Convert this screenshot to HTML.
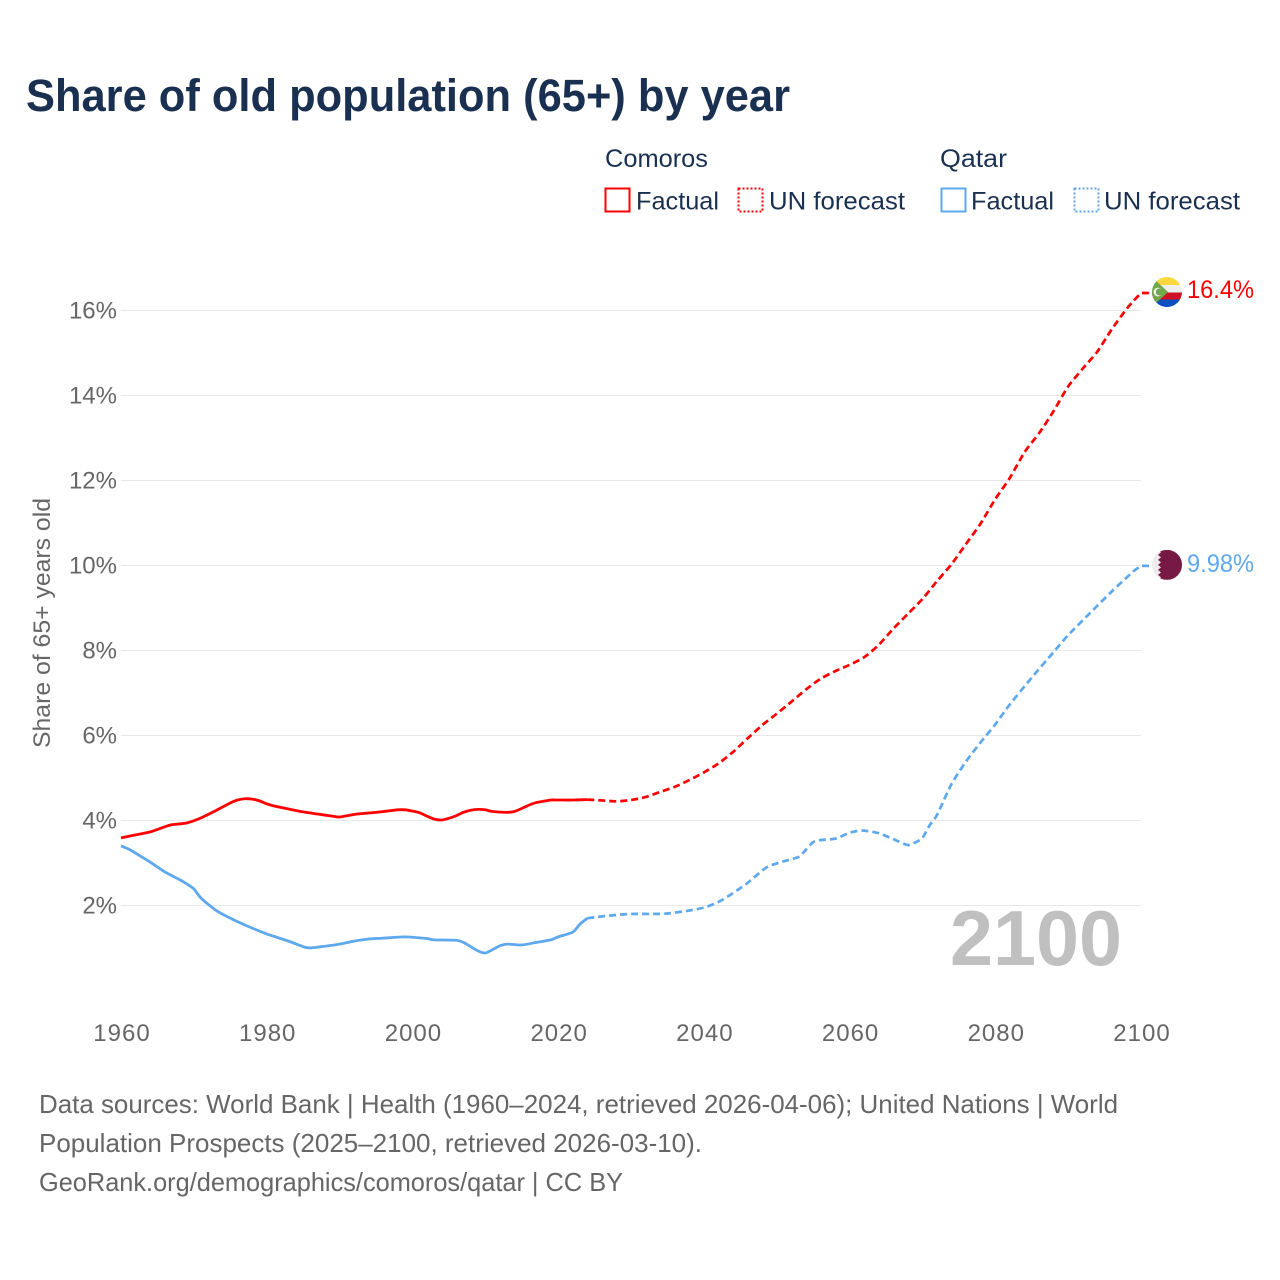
<!DOCTYPE html>
<html lang="en">
<head>
<meta charset="utf-8">
<title>Share of old population (65+) by year</title>
<style>
html,body{margin:0;padding:0;background:#fff;width:1280px;height:1280px;overflow:hidden}
svg{display:block}
text{font-family:"Liberation Sans",sans-serif}
</style>
</head>
<body>
<svg id="chart" xmlns="http://www.w3.org/2000/svg" width="1280" height="1280" viewBox="0 0 1280 1280">
  <defs>
    <clipPath id="flag-clip"><circle cx="0" cy="0" r="15"/></clipPath>
  </defs>
  <text x="26" y="111" font-size="45" font-weight="700" fill="#1a3050" textLength="764" lengthAdjust="spacingAndGlyphs">Share of old population (65+) by year</text>

  <g font-size="25" fill="#1a3050">
    <text x="605" y="167" textLength="103" lengthAdjust="spacingAndGlyphs">Comoros</text>
    <rect x="605.5" y="188.5" width="24" height="23" fill="none" stroke="#ff0000" stroke-width="2"/>
    <text x="636" y="209.5" textLength="83" lengthAdjust="spacingAndGlyphs">Factual</text>
    <rect x="738.5" y="188.5" width="24" height="23" fill="none" stroke="#ff0000" stroke-width="2" stroke-dasharray="2 2"/>
    <text x="769" y="209.5" textLength="136" lengthAdjust="spacingAndGlyphs">UN forecast</text>
    <text x="940" y="167" textLength="67" lengthAdjust="spacingAndGlyphs">Qatar</text>
    <rect x="941.5" y="188.5" width="24" height="23" fill="none" stroke="#5ea8ee" stroke-width="2"/>
    <text x="971" y="209.5" textLength="83" lengthAdjust="spacingAndGlyphs">Factual</text>
    <rect x="1074.5" y="188.5" width="24" height="23" fill="none" stroke="#5ea8ee" stroke-width="2" stroke-dasharray="2 2"/>
    <text x="1104" y="209.5" textLength="136" lengthAdjust="spacingAndGlyphs">UN forecast</text>
  </g>

  <text transform="translate(50,748) rotate(-90)" font-size="24" fill="#666666" textLength="250" lengthAdjust="spacingAndGlyphs">Share of 65+ years old</text>

  <g id="grid"></g>
  <g id="y-ticks"></g>
  <g id="x-ticks"></g>

  <text x="950" y="965" font-size="78" font-weight="700" fill="#c0c0c0" textLength="172" lengthAdjust="spacingAndGlyphs">2100</text>

  <g id="series"></g>

  <g id="flag-comoros">
    <g clip-path="url(#flag-clip)">
      <rect x="-15" y="-15" width="30" height="8" fill="#ffd83d"/>
      <rect x="-15" y="-7" width="30" height="7.5" fill="#eeeeee"/>
      <rect x="-15" y="0.5" width="30" height="7" fill="#ce1126"/>
      <rect x="-15" y="7.5" width="30" height="8" fill="#0b4fc0"/>
      <polygon points="-15,-15 -15,15 -15,15 1,0" fill="#72a84a"/>
      <circle cx="-9" cy="0" r="4.4" fill="#f4f4f4"/>
      <circle cx="-7.6" cy="0" r="3.6" fill="#72a84a"/>
    </g>
  </g>
  <g id="flag-qatar">
    <g clip-path="url(#flag-clip)">
      <rect x="-15" y="-15" width="30" height="30" fill="#ececec"/>
      <polygon points="15,-15 -9,-15 -6,-12.5 -9,-10 -6,-7.5 -9,-5 -6,-2.5 -9,0 -6,2.5 -9,5 -6,7.5 -9,10 -6,12.5 -9,15 15,15" fill="#761a45"/>
    </g>
  </g>
  <text id="label-comoros" x="1187" y="298" font-size="25" fill="#ff0000" textLength="67" lengthAdjust="spacingAndGlyphs"></text>
  <text id="label-qatar" x="1187" y="572" font-size="25" fill="#5ea8ee" textLength="67" lengthAdjust="spacingAndGlyphs"></text>

  <g font-size="26" fill="#666666">
    <text x="39" y="1113" textLength="1079" lengthAdjust="spacingAndGlyphs">Data sources: World Bank | Health (1960–2024, retrieved 2026-04-06); United Nations | World</text>
    <text x="39" y="1152" textLength="663" lengthAdjust="spacingAndGlyphs">Population Prospects (2025–2100, retrieved 2026-03-10).</text>
    <text x="39" y="1191" textLength="584" lengthAdjust="spacingAndGlyphs">GeoRank.org/demographics/comoros/qatar | CC BY</text>
  </g>
</svg>
<script>
const yTickValues = [2, 4, 6, 8, 10, 12, 14, 16];
const xTickValues = [1960, 1980, 2000, 2020, 2040, 2060, 2080, 2100];

const comorosFactualYears = [1960,1962,1964,1966,1967,1969,1971,1973,1975,1976,1977,1978,1979,1980,1981,1983,1985,1987,1989,1990,1992,1993,1995,1997,1998,1999,2000,2001,2002,2003,2004,2005,2006,2007,2008,2009,2010,2011,2013,2014,2015,2016,2017,2018,2019,2020,2022,2024];
const comorosFactualValues = [3.58,3.65,3.72,3.84,3.89,3.93,4.05,4.22,4.40,4.47,4.50,4.49,4.45,4.38,4.33,4.26,4.19,4.14,4.09,4.07,4.13,4.15,4.18,4.22,4.24,4.24,4.21,4.17,4.09,4.02,4.00,4.04,4.10,4.18,4.23,4.25,4.24,4.20,4.18,4.20,4.27,4.35,4.41,4.44,4.47,4.47,4.47,4.48];
const comorosForecastYears = [2024,2026,2028,2030,2032,2034,2036,2038,2040,2042,2044,2046,2048,2050,2052,2054,2056,2058,2060,2062,2064,2066,2068,2070,2072,2074,2076,2078,2080,2082,2084,2086,2088,2090,2092,2094,2096,2098,2099,2100];
const comorosForecastValues = [4.48,4.46,4.44,4.47,4.54,4.66,4.78,4.94,5.12,5.33,5.60,5.92,6.23,6.50,6.78,7.07,7.32,7.50,7.65,7.83,8.12,8.50,8.85,9.20,9.62,10.02,10.50,10.98,11.55,12.05,12.65,13.10,13.62,14.20,14.62,15.02,15.55,16.02,16.22,16.40];

const qatarFactualYears = [1960,1961,1962,1964,1966,1968,1969,1970,1971,1973,1975,1977,1980,1983,1985,1986,1988,1990,1992,1994,1996,1999,2002,2003,2006,2007,2009,2010,2011,2012,2013,2015,2017,2019,2020,2022,2023,2024];
const qatarFactualValues = [3.39,3.32,3.22,3.01,2.78,2.60,2.50,2.38,2.16,1.88,1.69,1.53,1.32,1.15,1.02,0.99,1.03,1.08,1.15,1.20,1.22,1.25,1.21,1.18,1.17,1.12,0.92,0.87,0.95,1.04,1.08,1.06,1.12,1.18,1.25,1.36,1.55,1.69];
const qatarForecastYears = [2024,2025,2027,2030,2033,2035,2038,2040,2042,2044,2046,2048,2049,2051,2053,2054,2055,2056,2058,2060,2061,2062,2064,2066,2068,2069,2070,2071,2072,2074,2076,2078,2080,2082,2085,2088,2090,2093,2096,2098,2099,2100];
const qatarForecastValues = [1.69,1.71,1.75,1.79,1.79,1.80,1.87,1.94,2.07,2.28,2.52,2.81,2.92,3.03,3.13,3.30,3.48,3.53,3.56,3.70,3.74,3.75,3.69,3.55,3.41,3.47,3.58,3.88,4.12,4.85,5.38,5.83,6.25,6.72,7.35,7.95,8.35,8.87,9.38,9.70,9.86,9.98];

const comorosEndLabel = "16.4%";
const qatarEndLabel = "9.98%";

const SVG_NS = "http://www.w3.org/2000/svg";
const xScale = function (year) { return 121 + (year - 1960) * (1020 / 140); };
const yScale = function (value) { return 990 - value * 42.5; };
const connectorEndX = 1150;

function smoothPath(years, values, extend) {
  const pts = years.map(function (yr, i) { return [xScale(yr), yScale(values[i])]; });
  let d = "M" + pts[0][0].toFixed(2) + " " + pts[0][1].toFixed(2);
  for (let i = 0; i < pts.length - 1; i++) {
    const p0 = pts[Math.max(i - 1, 0)];
    const p1 = pts[i];
    const p2 = pts[i + 1];
    const p3 = pts[Math.min(i + 2, pts.length - 1)];
    const t = 0.12;
    const c1x = p1[0] + (p2[0] - p0[0]) * t;
    const c1y = p1[1] + (p2[1] - p0[1]) * t;
    const c2x = p2[0] - (p3[0] - p1[0]) * t;
    const c2y = p2[1] - (p3[1] - p1[1]) * t;
    d += "C" + c1x.toFixed(2) + " " + c1y.toFixed(2) + " " + c2x.toFixed(2) + " " + c2y.toFixed(2) + " " + p2[0].toFixed(2) + " " + p2[1].toFixed(2);
  }
  if (extend) {
    d += "L" + connectorEndX + " " + pts[pts.length - 1][1].toFixed(2);
  }
  return d;
}

const gridGroup = document.getElementById("grid");
const yTickGroup = document.getElementById("y-ticks");
const xTickGroup = document.getElementById("x-ticks");
const seriesGroup = document.getElementById("series");

yTickValues.forEach(function (v) {
  const line = document.createElementNS(SVG_NS, "line");
  
  
  line.setAttribute("x1", xScale(1960));
  line.setAttribute("x2", xScale(2100));
  line.setAttribute("y1", yScale(v) + 0.5);
  line.setAttribute("y2", yScale(v) + 0.5);
  line.setAttribute("stroke", "#e8e8e8");
  line.setAttribute("stroke-width", "1");
  gridGroup.appendChild(line);

  const label = document.createElementNS(SVG_NS, "text");
  
  
  label.setAttribute("x", 117);
  label.setAttribute("y", yScale(v) + 8.5);
  label.setAttribute("text-anchor", "end");
  label.setAttribute("font-size", "24");
  label.setAttribute("fill", "#666666");
  label.textContent = v + "%";
  yTickGroup.appendChild(label);
});

xTickValues.forEach(function (yr) {
  const label = document.createElementNS(SVG_NS, "text");
  
  
  label.setAttribute("x", xScale(yr) + 1);
  label.setAttribute("y", 1041);
  label.setAttribute("text-anchor", "middle");
  label.setAttribute("font-size", "24");
  label.setAttribute("letter-spacing", "1");
  label.setAttribute("fill", "#666666");
  label.textContent = yr;
  xTickGroup.appendChild(label);
});

function drawLine(name, years, values, color, dashed) {
  const path = document.createElementNS(SVG_NS, "path");
  
  
  path.setAttribute("d", smoothPath(years, values, dashed));
  path.setAttribute("fill", "none");
  path.setAttribute("stroke", color);
  path.setAttribute("stroke-width", dashed ? "2.7" : "2.8");
  path.setAttribute("stroke-linejoin", "round");
  if (dashed) {
    path.setAttribute("stroke-dasharray", "7 4");
  }
  seriesGroup.appendChild(path);
}

drawLine("qatar-factual-line", qatarFactualYears, qatarFactualValues, "#5ea8ee", false);
drawLine("qatar-forecast-line", qatarForecastYears, qatarForecastValues, "#5ea8ee", true);
drawLine("comoros-factual-line", comorosFactualYears, comorosFactualValues, "#ff0000", false);
drawLine("comoros-forecast-line", comorosForecastYears, comorosForecastValues, "#ff0000", true);

const lastComoros = comorosForecastValues[comorosForecastValues.length - 1];
const lastQatar = qatarForecastValues[qatarForecastValues.length - 1];
document.getElementById("flag-comoros").setAttribute("transform", "translate(1167," + (yScale(lastComoros) - 1) + ")");
document.getElementById("flag-qatar").setAttribute("transform", "translate(1167," + (yScale(lastQatar) - 1) + ")");
document.getElementById("label-comoros").setAttribute("y", yScale(lastComoros) + 5);
document.getElementById("label-qatar").setAttribute("y", yScale(lastQatar) + 6);
document.getElementById("label-comoros").textContent = comorosEndLabel;
document.getElementById("label-qatar").textContent = qatarEndLabel;
</script>
</body>
</html>
